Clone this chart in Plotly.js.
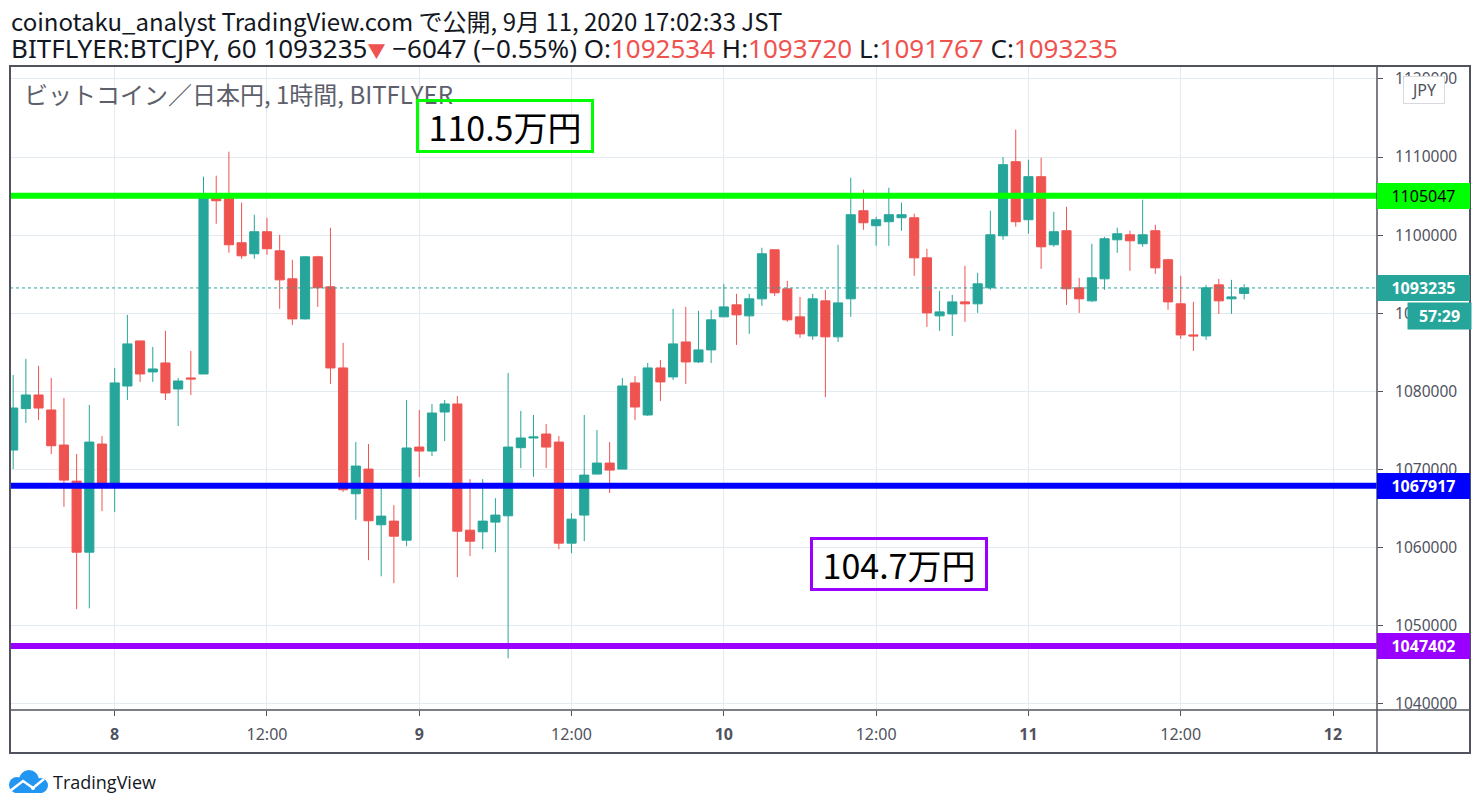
<!DOCTYPE html>
<html>
<head>
<meta charset="utf-8">
<script src="https://cdn.plot.ly/plotly-3.0.1.min.js"></script>
<style>
html,body{margin:0;padding:0;background:#fff;}
#chart{width:1481px;height:809px;}
</style>
</head>
<body>
<div id="chart"></div>
<script>
// ---- data ----
const times = [
'2020-09-07 16:00','2020-09-07 17:00','2020-09-07 18:00','2020-09-07 19:00','2020-09-07 20:00','2020-09-07 21:00','2020-09-07 22:00','2020-09-07 23:00',
'2020-09-08 00:00','2020-09-08 01:00','2020-09-08 02:00','2020-09-08 03:00','2020-09-08 04:00','2020-09-08 05:00','2020-09-08 06:00','2020-09-08 07:00',
'2020-09-08 08:00','2020-09-08 09:00','2020-09-08 10:00','2020-09-08 11:00','2020-09-08 12:00','2020-09-08 13:00','2020-09-08 14:00','2020-09-08 15:00',
'2020-09-08 16:00','2020-09-08 17:00','2020-09-08 18:00','2020-09-08 19:00','2020-09-08 20:00','2020-09-08 21:00','2020-09-08 22:00','2020-09-08 23:00',
'2020-09-09 00:00','2020-09-09 01:00','2020-09-09 02:00','2020-09-09 03:00','2020-09-09 04:00','2020-09-09 05:00','2020-09-09 06:00','2020-09-09 07:00',
'2020-09-09 08:00','2020-09-09 09:00','2020-09-09 10:00','2020-09-09 11:00','2020-09-09 12:00','2020-09-09 13:00','2020-09-09 14:00','2020-09-09 15:00',
'2020-09-09 16:00','2020-09-09 17:00','2020-09-09 18:00','2020-09-09 19:00','2020-09-09 20:00','2020-09-09 21:00','2020-09-09 22:00','2020-09-09 23:00',
'2020-09-10 00:00','2020-09-10 01:00','2020-09-10 02:00','2020-09-10 03:00','2020-09-10 04:00','2020-09-10 05:00','2020-09-10 06:00','2020-09-10 07:00',
'2020-09-10 08:00','2020-09-10 09:00','2020-09-10 10:00','2020-09-10 11:00','2020-09-10 12:00','2020-09-10 13:00','2020-09-10 14:00','2020-09-10 15:00',
'2020-09-10 16:00','2020-09-10 17:00','2020-09-10 18:00','2020-09-10 19:00','2020-09-10 20:00','2020-09-10 21:00','2020-09-10 22:00','2020-09-10 23:00',
'2020-09-11 00:00','2020-09-11 01:00','2020-09-11 02:00','2020-09-11 03:00','2020-09-11 04:00','2020-09-11 05:00','2020-09-11 06:00','2020-09-11 07:00',
'2020-09-11 08:00','2020-09-11 09:00','2020-09-11 10:00','2020-09-11 11:00','2020-09-11 12:00','2020-09-11 13:00','2020-09-11 14:00','2020-09-11 15:00',
'2020-09-11 16:00','2020-09-11 17:00'
];
const openP = [
1072480,1077780,1079530,1077610,1073120,1068500,1059400,1073250,
1068210,1080680,1086450,1082480,1083630,1080300,1081710,1082220,
1105000,1104900,1099020,1097610,1100430,1097990,1094400,1089270,
1097220,1093380,1082990,1066880,1070040,1062910,1063380,1060940,
1072860,1072350,1077350,1078380,1062220,1062010,1063250,1064060,
1072780,1074020,1074530,1073500,1060560,1064150,1069400,1070810,
1070040,1081070,1076970,1082990,1081840,1086320,1083760,1085300,
1089530,1091070,1089660,1091840,1098120,1093120,1089530,1087090,
1091580,1086970,1091840,1103120,1101200,1101710,1102220,1102220,
1097090,1089660,1089910,1091450,1091200,1093250,1099910,1109400,
1101970,1107480,1098760,1100560,1093250,1091580,1094400,1099400,
1100040,1098890,1100560,1096840,1091200,1087220,1087090,1093630,
1091840,1092534
];
const highP = [
1082090,1084150,1083250,1081710,1079150,1071970,1078250,1074270,
1082990,1089790,1086450,1085680,1087740,1081710,1085170,1107480,
1107610,1110680,1104150,1102610,1102220,1100040,1096840,1097300,
1097350,1100940,1086200,1073500,1073250,1067650,1065430,1078890,
1077610,1078380,1078890,1079400,1068760,1068760,1066320,1082350,
1077480,1076970,1075810,1074270,1064400,1076970,1075040,1073500,
1081710,1081970,1083630,1084020,1090560,1090810,1090300,1090430,
1093760,1092480,1092480,1098380,1098120,1094150,1092090,1092480,
1092990,1098760,1107350,1105810,1102350,1106070,1104150,1102740,
1098250,1092860,1092350,1096070,1095170,1103120,1110000,1113500,
1109660,1109910,1102990,1103630,1094530,1098890,1099790,1100940,
1100560,1104530,1101320,1096970,1094790,1091450,1093630,1094400,
1094270,1093720
];
const lowP = [
1070040,1075940,1076320,1071970,1065210,1052100,1052220,1064660,
1064530,1078890,1081200,1081200,1078890,1075560,1079530,1082220,
1101450,1097740,1096970,1096970,1097480,1090560,1088500,1089200,
1090810,1080940,1067140,1063550,1058380,1056320,1055430,1060170,
1069020,1071710,1073630,1056200,1058890,1059790,1059400,1045810,
1070170,1069060,1070170,1059790,1059270,1060810,1069400,1066970,
1070040,1076320,1076840,1078760,1081450,1080940,1083630,1083630,
1089530,1085940,1087350,1090940,1092220,1088890,1086840,1086580,
1079270,1086320,1089530,1100680,1098630,1098630,1100560,1094790,
1088250,1087740,1087090,1088890,1090040,1092990,1099400,1101070,
1100170,1095680,1098500,1091070,1090040,1091450,1092990,1097740,
1095430,1098500,1095040,1090430,1086710,1085170,1086580,1089910,
1089910,1091767
];
const closeP = [
1077860,1079530,1077860,1073030,1068630,1059400,1073500,1068210,
1081070,1086070,1082220,1082860,1079790,1081320,1081580,1104960,
1104400,1098760,1097350,1100430,1098250,1094270,1089270,1097220,
1093250,1082990,1067390,1070430,1063420,1064020,1061450,1072740,
1072350,1077220,1078380,1062090,1060810,1063380,1064150,1072860,
1074020,1074150,1072860,1060560,1063630,1069270,1070810,1069910,
1080680,1077990,1082990,1081200,1086070,1083760,1085300,1089150,
1090810,1089790,1091840,1097610,1092610,1089150,1087350,1091840,
1086970,1091320,1102610,1101580,1101970,1102610,1102610,1097090,
1090040,1090170,1091450,1091200,1093760,1100040,1109020,1101710,
1107480,1098500,1100430,1093120,1091840,1094530,1099530,1100170,
1099270,1100040,1095810,1091450,1087220,1087090,1093250,1091580,
1092090,1093235
];
const xTickVals = ['2020-09-08 00:00','2020-09-08 12:00','2020-09-09 00:00','2020-09-09 12:00','2020-09-10 00:00','2020-09-10 12:00','2020-09-11 00:00','2020-09-11 12:00','2020-09-12 00:00'];
const xTickText = ['<b>8</b>','12:00','<b>9</b>','12:00','<b>10</b>','12:00','<b>11</b>','12:00','<b>12</b>'];
const yTickVals = [1040000,1050000,1060000,1070000,1080000,1090000,1100000,1110000,1120000];
const levelResist = 1105047;
const levelSupport = 1067917;
const levelLow = 1047402;
const lastPrice = 1093235;
const resistLabel = '110.5万円';
const supportLabel = '104.7万円';
const headerLine1 = 'coinotaku_analyst TradingView.com で公開, 9月 11, 2020 17:02:33 JST';
const symbolText = 'BITFLYER:BTCJPY, 60';
const changeText = '−6047 (−0.55%)';
const ohlcLast = {O: 1092534, H: 1093720, L: 1091767, C: 1093235};
const paneTitle = 'ビットコイン／日本円, 1時間, BITFLYER';
const countdown = '57:29';

// ---- layout helpers (pixel -> paper) ----
const W = 1481, H = 809, ML = 10, MR = 104, MT = 66, MB = 99;
const PW = W - ML - MR, PH = H - MT - MB;
const px = X => (X - ML) / PW;
const py = Y => (H - MB - Y) / PH;

const UP = '#26a69a', DOWN = '#ef5350', FRAME = '#50535e', TXT = '#131722';
const RED = '#ef5350';
const JP = '"Noto Sans CJK JP", "Noto Sans", sans-serif';
const NSJ = '"Noto Sans", "Noto Sans CJK JP", sans-serif';
const NS = '"Noto Sans", sans-serif';

const trace = {
  type: 'candlestick',
  x: times, open: openP, high: highP, low: lowP, close: closeP,
  increasing: {line: {color: UP, width: 1}, fillcolor: UP},
  decreasing: {line: {color: DOWN, width: 1}, fillcolor: DOWN},
  whiskerwidth: 0,
  hoverinfo: 'skip',
  showlegend: false
};

const shapes = [
  // level lines
  {type:'line', xref:'paper', yref:'y', x0:0, x1:1, y0:levelResist, y1:levelResist, line:{color:'#00ff00', width:6}},
  {type:'line', xref:'paper', yref:'y', x0:0, x1:1, y0:levelSupport, y1:levelSupport, line:{color:'#0000ff', width:6}},
  {type:'line', xref:'paper', yref:'y', x0:0, x1:1, y0:levelLow, y1:levelLow, line:{color:'#9900ff', width:6}},
  {type:'line', xref:'paper', yref:'y', x0:0, x1:1, y0:lastPrice, y1:lastPrice, line:{color:UP, width:1, dash:'dot'}},
  // frame
  {type:'rect', xref:'paper', yref:'paper', x0:0, x1:px(1470), y0:py(753), y1:1, line:{color:FRAME, width:2}, layer:'above'},
  {type:'line', xref:'paper', yref:'paper', x0:1, x1:1, y0:py(753), y1:1, line:{color:FRAME, width:1.5}, layer:'above'},
  {type:'line', xref:'paper', yref:'paper', x0:0, x1:px(1470), y0:0, y1:0, line:{color:FRAME, width:1.5}, layer:'above'},
  // TradingView logo cloud
  {type:'circle', xref:'paper', yref:'paper', x0:px(9), x1:px(25), y0:py(793), y1:py(777), fillcolor:'#2196f3', line:{width:0}, layer:'above'},
  {type:'circle', xref:'paper', yref:'paper', x0:px(19), x1:px(39), y0:py(790), y1:py(770), fillcolor:'#2196f3', line:{width:0}, layer:'above'},
  {type:'circle', xref:'paper', yref:'paper', x0:px(33), x1:px(48), y0:py(793), y1:py(778), fillcolor:'#2196f3', line:{width:0}, layer:'above'},
  {type:'rect', xref:'paper', yref:'paper', x0:px(15), x1:px(42), y0:py(793), y1:py(784), fillcolor:'#2196f3', line:{width:0}, layer:'above'},
  {type:'path', xref:'paper', yref:'paper',
   path:`M ${px(10)} ${py(791)} L ${px(23)} ${py(781)} L ${px(33)} ${py(788)} L ${px(44)} ${py(779)}`,
   line:{color:'#ffffff', width:2.5}, layer:'above'},
  {type:'circle', xref:'paper', yref:'paper', x0:px(31), x1:px(35), y0:py(790), y1:py(786), fillcolor:'#ffffff', line:{width:0}, layer:'above'}
];

function priceTag(y, text, bg, color, bold) {
  return {xref:'paper', yref:'y', x:1, y:y, xanchor:'left', yanchor:'middle',
    text: bold ? '<b>'+text+'</b>' : text, showarrow:false, bgcolor:bg, width:93, height:26,
    borderpad:0, borderwidth:0, align:'center', font:{family:NS, size:16, color:color}};
}

const header2 = symbolText + ' ' + lastPrice + '<span style="color:'+RED+';font-size:18px">▼</span> ' + changeText +
  ' O:<span style="color:'+RED+'">' + ohlcLast.O + '</span>' +
  ' H:<span style="color:'+RED+'">' + ohlcLast.H + '</span>' +
  ' L:<span style="color:'+RED+'">' + ohlcLast.L + '</span>' +
  ' C:<span style="color:'+RED+'">' + ohlcLast.C + '</span>';

const annotations = [
  {xref:'paper', yref:'paper', x:px(10), y:py(20), xanchor:'left', yanchor:'middle', showarrow:false,
   text: headerLine1, font:{family:JP, size:24, color:TXT}, borderpad:0},
  {xref:'paper', yref:'paper', x:px(10), y:py(48), xanchor:'left', yanchor:'middle', showarrow:false,
   text: header2, font:{family:NSJ, size:26, color:TXT}, borderpad:0},
  {xref:'paper', yref:'paper', x:px(22), y:py(93), xanchor:'left', yanchor:'middle', showarrow:false,
   text: paneTitle, font:{family:JP, size:24, color:'#5d606b'}},
  {xref:'paper', yref:'paper', x:px(505), y:py(126), xanchor:'center', yanchor:'middle', showarrow:false,
   text: resistLabel, font:{family:JP, size:34, color:'#000000'}, bgcolor:'rgba(255,255,255,0)',
   bordercolor:'#00ff00', borderwidth:3, borderpad:0, width:172, height:48},
  {xref:'paper', yref:'paper', x:px(899), y:py(564), xanchor:'center', yanchor:'middle', showarrow:false,
   text: supportLabel, font:{family:JP, size:34, color:'#000000'}, bgcolor:'rgba(255,255,255,0)',
   bordercolor:'#9900ff', borderwidth:3, borderpad:0, width:172, height:48},
  priceTag(levelResist, String(levelResist), '#00ff00', '#000000', false),
  priceTag(lastPrice, String(lastPrice), UP, '#ffffff', true),
  priceTag(levelSupport, String(levelSupport), '#0000ff', '#ffffff', true),
  priceTag(levelLow, String(levelLow), '#9900ff', '#ffffff', true),
  {xref:'paper', yref:'paper', x:px(1407), y:py(316), xanchor:'left', yanchor:'middle', showarrow:false,
   text:'<b>'+countdown+'</b>', bgcolor:UP, width:63, height:26, borderpad:0,
   font:{family:NS, size:16, color:'#ffffff'}},
  {xref:'paper', yref:'paper', x:px(1424), y:py(90), xanchor:'center', yanchor:'middle', showarrow:false,
   text:'JPY', bgcolor:'#ffffff', bordercolor:'#d6d9e0', borderwidth:1, borderpad:0, width:40, height:26,
   font:{family:NS, size:16, color:'#50535e'}},
  {xref:'paper', yref:'paper', x:px(51), y:py(782), xanchor:'left', yanchor:'middle', showarrow:false,
   text:'TradingView', font:{family:'"Open Sans", sans-serif', size:18, color:TXT}}
];

const layout = {
  width: W, height: H,
  margin: {l: ML, r: MR, t: MT, b: MB, pad: 0},
  paper_bgcolor: '#ffffff', plot_bgcolor: '#ffffff',
  showlegend: false,
  boxgap: 0.28, boxgroupgap: 0,
  xaxis: {
    type: 'date', range: ['2020-09-07 15:45', '2020-09-12 03:28'],
    tickmode: 'array', tickvals: xTickVals, ticktext: xTickText,
    showgrid: true, gridcolor: '#e3ebf1', gridwidth: 1,
    ticks: 'outside', ticklen: 5, tickcolor: FRAME, tickwidth: 1,
    ticklabelstandoff: 5,
    tickfont: {family: NS, size: 16, color: FRAME},
    showline: false, zeroline: false, fixedrange: true,
    rangeslider: {visible: false}
  },
  yaxis: {
    side: 'right', range: [1039194, 1121652],
    tickmode: 'array', tickvals: yTickVals, tickformat: 'd',
    showgrid: true, gridcolor: '#e3ebf1', gridwidth: 1,
    ticks: 'outside', ticklen: 5, tickcolor: FRAME, tickwidth: 1,
    ticklabelstandoff: 9,
    tickfont: {family: NS, size: 15.5, color: FRAME},
    showline: false, zeroline: false, fixedrange: true
  },
  shapes: shapes,
  annotations: annotations
};

Plotly.newPlot('chart', [trace], layout, {displayModeBar: false, staticPlot: true});
</script>
</body>
</html>
